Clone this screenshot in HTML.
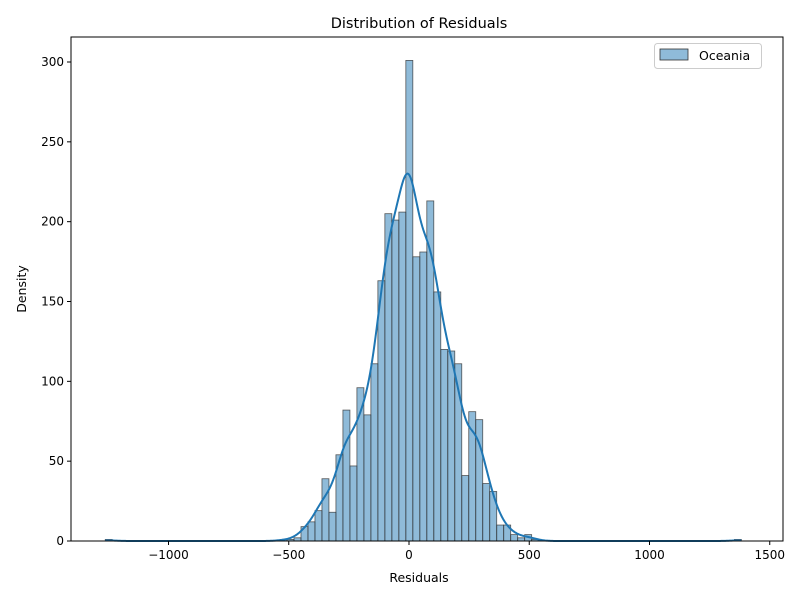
<!DOCTYPE html>
<html><head><meta charset="utf-8"><style>
body{margin:0;background:#fff;font-family:"Liberation Sans","DejaVu Sans",sans-serif}
svg text{font-family:"DejaVu Sans","Liberation Sans",sans-serif}
</style></head><body>
<svg id="chart" width="800" height="600" xmlns="http://www.w3.org/2000/svg"></svg>
<script>
const binMin = -1263;
const binMax = 1382;
const binCount = 91;
const counts = new Array(91).fill(0);
const nonzeroStart = 25;
const nonzeroCounts = [1,1,2,9,12,19,39,18,54,82,47,96,79,111,163,205,201,206,301,178,181,213,156,120,119,111,41,81,76,36,31,10,10,4,2,4,1];
const xTicks = [-1000,-500,0,500,1000,1500];
const yTicks = [0,50,100,150,200,250,300];
counts[0]=1; counts[90]=1;
nonzeroCounts.forEach((c,i)=>counts[nonzeroStart+i]=c);

const NS="http://www.w3.org/2000/svg";
const svg=document.getElementById('chart');
const L=71,R=783,T=37,B=541;
const xs=v=>409+(v)*0.2405;
const ys=v=>B-v*(479/300);
function el(tag,attrs,parent){const e=document.createElementNS(NS,tag);for(const k in attrs)e.setAttribute(k,attrs[k]);(parent||svg).appendChild(e);return e;}

const w=(binMax-binMin)/binCount;
const bars=el('g',{});


counts.forEach((c,i)=>{
  if(c<=0)return;
  const x0=xs(binMin+i*w),x1=xs(binMin+(i+1)*w);
  const r=el('rect',{x:x0,y:ys(c),width:x1-x0,height:ys(0)-ys(c),fill:'rgba(31,119,180,0.5)',stroke:'#333',"stroke-width":0.8,"stroke-opacity":0.8},bars);
  
  
});
let N=0,mean=0;counts.forEach((c,i)=>{N+=c;mean+=c*(binMin+(i+.5)*w);});mean/=N;
let vr=0;counts.forEach((c,i)=>{const d=binMin+(i+.5)*w-mean;vr+=c*d*d;});const sd=Math.sqrt(vr/N);
const bw=1.06*sd*Math.pow(N,-0.2)*0.95;
let pts=[];
for(let k=0;k<=600;k++){const x=binMin+(binMax-binMin)*k/600;let d=0;
 counts.forEach((c,i)=>{if(!c)return;const u=(x-(binMin+(i+.5)*w))/bw;d+=c*Math.exp(-0.5*u*u);});
 d=d/(bw*Math.sqrt(2*Math.PI))*w;pts.push(xs(x).toFixed(2)+','+ys(d).toFixed(2));}
const kde=el('polyline',{points:pts.join(' '),fill:'none',stroke:'#1f77b4',"stroke-width":2});


el('rect',{x:L,y:T,width:R-L,height:B-T,fill:'none',stroke:'#000',"stroke-width":1});
xTicks.forEach(t=>{const x=xs(t);el('line',{x1:x,x2:x,y1:B,y2:B+4,stroke:'#000'});
 const tx=el('text',{x:x,y:B+18,"text-anchor":"middle","font-size":12});tx.textContent=(t<0?'\u2212'+(-t):t);
 
 });
yTicks.forEach(t=>{const y=ys(t);el('line',{x1:L-4,x2:L,y1:y,y2:y,stroke:'#000'});
 const tx=el('text',{x:L-7,y:y+4,"text-anchor":"end","font-size":12});tx.textContent=t;
 
 });
</script>
<svg width="800" height="600" style="position:absolute;left:0;top:0" xmlns="http://www.w3.org/2000/svg">
<text x="419" y="28" text-anchor="middle" font-size="14.5">Distribution of Residuals</text>
<text x="419" y="582" text-anchor="middle" font-size="12.5">Residuals</text>
<text transform="translate(26,289) rotate(-90)" text-anchor="middle" font-size="12.5">Density</text>
<g>
<rect x="654.5" y="43.5" width="107" height="25" rx="3" fill="#fff" stroke="#ccc"/>
<rect x="660" y="49" width="28" height="11" fill="rgba(31,119,180,0.5)" stroke="#333" stroke-width="0.8"/>
<text x="699" y="60" font-size="12.5">Oceania</text>
</g>
</svg>
</body></html>
